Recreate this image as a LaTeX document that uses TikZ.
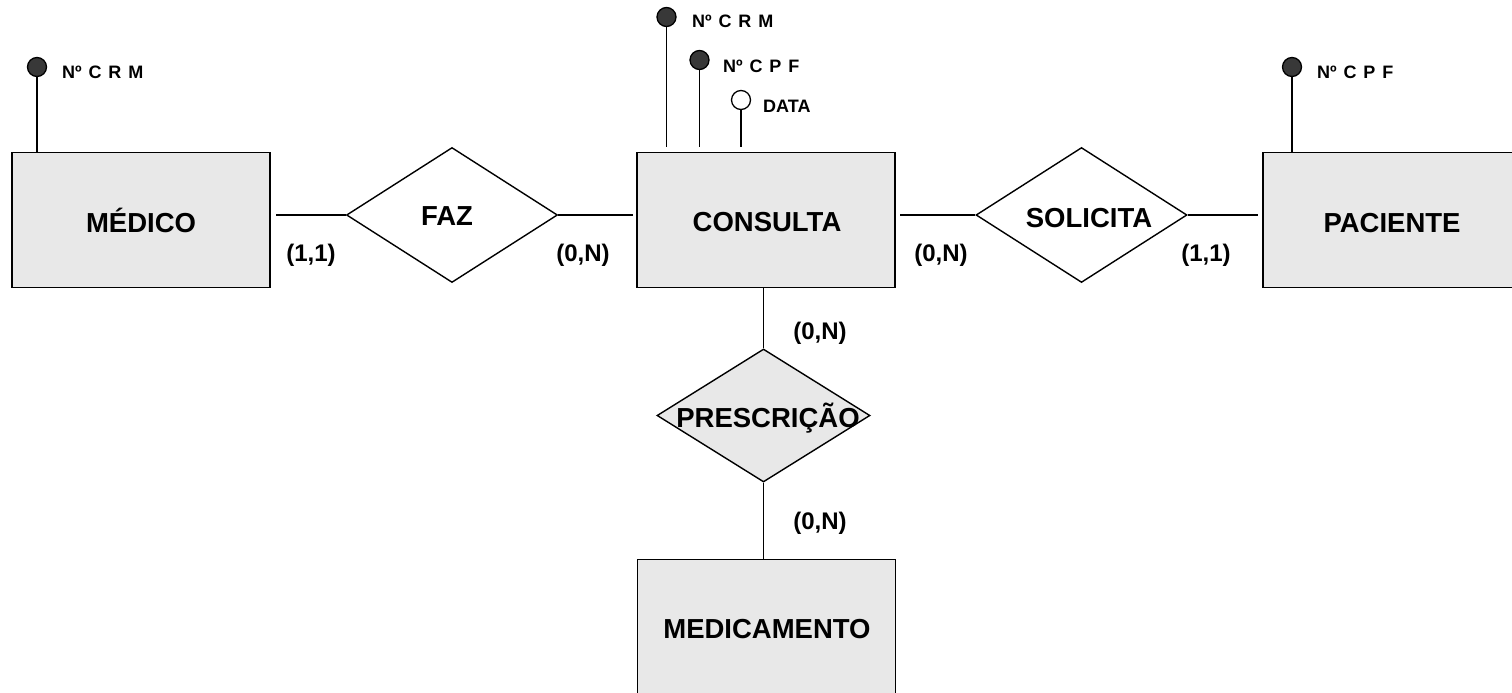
\documentclass[tikz,border=0pt]{standalone}
\usepackage{fontspec}
\setmainfont{Liberation Sans}
\usetikzlibrary{shapes.geometric,calc}
\tikzset{
  entity/.style={draw=black, line width=1.8pt, fill=gray!18, minimum width=258pt, minimum height=135pt, inner sep=0pt},
  rel/.style={diamond, draw=black, line width=1.4pt, inner sep=0pt, minimum width=211pt, minimum height=135pt},
  big/.style={font=\fontsize{27.5}{32}\selectfont\bfseries, anchor=base, inner sep=0pt},
  card/.style={font=\fontsize{24}{28}\selectfont\bfseries, anchor=base, inner sep=0pt},
  attr/.style={font=\fontsize{18}{21}\selectfont\bfseries, anchor=base west, inner sep=0pt},
  keyatt/.style={circle, draw=black, line width=1.3pt, fill=black!78, minimum size=19pt, inner sep=0pt},
  optatt/.style={circle, draw=black, line width=1.3pt, fill=white, minimum size=19pt, inner sep=0pt},
  conn/.style={line width=1.5pt},
}
\newcommand{\attsp}{\hspace{0.38em}}
\begin{document}
\begin{tikzpicture}[x=1pt,y=-1pt]
\clip (0,0) rectangle (1512,693);
\fill[white] (0,0) rectangle (1512,693);

% entities
\node[entity] (medico) at (141,220) {};
\node[big] (medicot) at (141,232) {MÉDICO};
\node[entity] (consulta) at (766,220) {};
\node[big] (consultat) at (767,231) {CONSULTA};
\node[entity] (paciente) at (1392,220) {};
\node[big] (pacientet) at (1392,232) {PACIENTE};
\node[entity] (medicamento) at (766.5,627) {};
\node[big] (medicamentot) at (767,638) {MEDICAMENTO};

% relationships
\node[rel, fill=white] (faz) at (452,215) {};
\node[big] (fazt) at (447,225) {FAZ};
\node[rel, fill=white] (solicita) at (1081.5,215) {};
\node[big] (solicitat) at (1089,227) {SOLICITA};
\node[rel, fill=gray!18, minimum width=213pt, minimum height=133pt] (presc) at (763.5,415.5) {};
\node[big] (presct) at (768,427) {PRESCRIÇÃO};

% connectors
\draw[conn, shorten >=5pt] (faz.west) -- (faz.west -| medico.east);
\draw[conn, shorten >=3pt] (faz.east) -- (faz.east -| consulta.west);
\draw[conn, shorten >=4pt] (solicita.west) -- (solicita.west -| consulta.east);
\draw[conn, shorten >=4pt] (solicita.east) -- (solicita.east -| paciente.west);
\draw[conn] (presc.north) -- (presc.north |- consulta.south);
\draw[conn] (presc.south) -- (presc.south |- medicamento.north);

% cardinalities
\node[card] (c1) at (311,261) {(1,1)};
\node[card] (c2) at (583,261) {(0,N)};
\node[card] (c3) at (941,261) {(0,N)};
\node[card] (c4) at (1206,261) {(1,1)};
\node[card] (c5) at (820,339) {(0,N)};
\node[card] (c6) at (820,529) {(0,N)};

% attributes
\node[keyatt] (am) at (37,67) {};
\draw[conn] (am) -- (am |- medico.north);
\node[attr] (amt) at (62,78) {Nº\attsp C\attsp R\attsp M};

\node[keyatt] (ap) at (1292,67) {};
\draw[conn] (ap) -- (ap |- paciente.north);
\node[attr] (apt) at (1317,78) {Nº\attsp C\attsp P\attsp F};

\node[keyatt] (ac1) at (666.5,17) {};
\draw[conn, shorten >=5pt] (ac1) -- (ac1 |- consulta.north);
\node[attr] (ac1t) at (692,28) {Nº\attsp C\attsp R\attsp M};
\node[keyatt] (ac2) at (699.5,60) {};
\draw[conn, shorten >=5pt] (ac2) -- (ac2 |- consulta.north);
\node[attr] (ac2t) at (723,73) {Nº\attsp C\attsp P\attsp F};
\node[optatt] (ac3) at (741,100) {};
\draw[conn, shorten >=5pt] (ac3) -- (ac3 |- consulta.north);
\node[attr] (ac3t) at (763,112) {DATA};
\end{tikzpicture}
\end{document}
